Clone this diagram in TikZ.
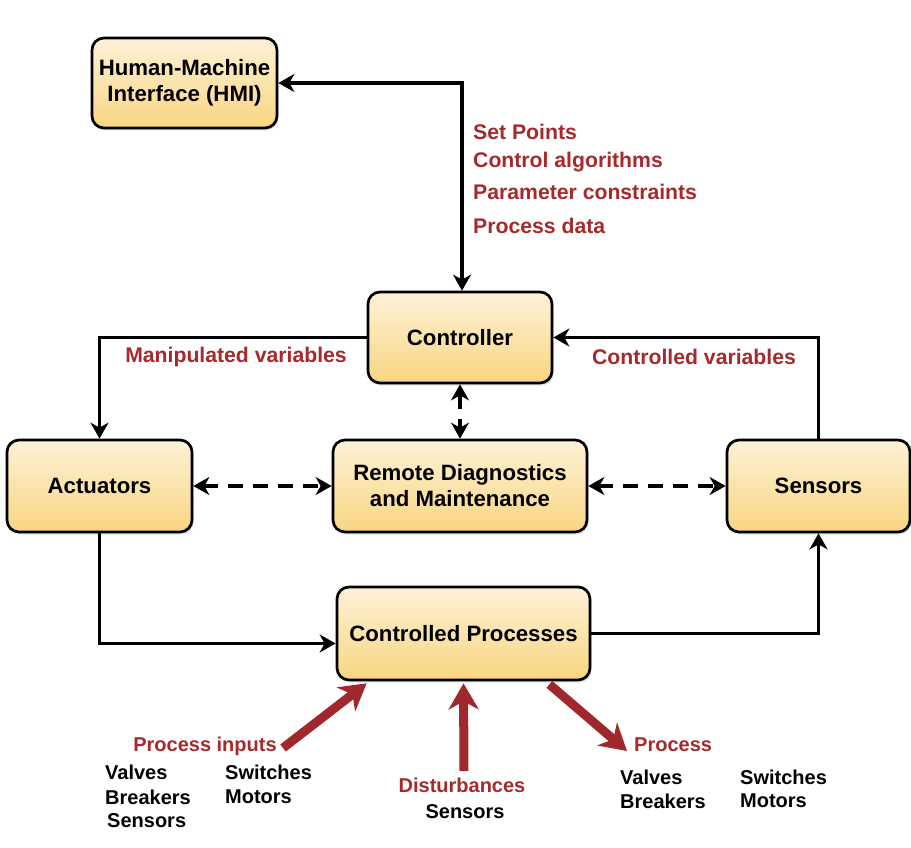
\documentclass[tikz,border=0pt]{standalone}
\usepackage{fontspec}
\setmainfont{Liberation Sans}
\usetikzlibrary{arrows.meta,shadows,calc}
\definecolor{boxtop}{RGB}{253,242,216}
\definecolor{boxbot}{RGB}{249,213,128}
\definecolor{lblred}{RGB}{166,42,44}
\definecolor{arrred}{RGB}{160,40,44}
\tikzset{
  blk/.style={draw=black, line width=2.7pt, rounded corners=12pt, top color=boxtop, bottom color=boxbot,
    align=center, font=\fontsize{22.2}{26}\selectfont\bfseries, inner sep=0pt,
    drop shadow={opacity=0.22, shadow xshift=1.5pt, shadow yshift=-2.5pt}},
  tip/.style={Stealth[length=16pt,width=18pt,inset=5pt]},
  conn/.style={line width=3.5pt, black, arrows={-Stealth[length=16pt,width=18pt,inset=5pt]}},
  dconn/.style={line width=3.5pt, black, dash pattern=on 15pt off 10pt,
    arrows={Stealth[length=16pt,width=18pt,inset=5pt]-Stealth[length=16pt,width=18pt,inset=5pt]}},
  rarr/.style={line width=9pt, arrred, arrows={-Stealth[length=26pt,width=30pt,inset=8pt]}},
  rlbl/.style={text=lblred, font=\fontsize{21.2}{25}\selectfont\bfseries, inner sep=0pt},
  rlblb/.style={text=lblred, font=\fontsize{20}{24}\selectfont\bfseries, inner sep=0pt},
  klbl/.style={text=black, font=\fontsize{20}{24}\selectfont\bfseries, inner sep=0pt, anchor=west},
}
\begin{document}
\begin{tikzpicture}[x=1pt,y=-1pt]
\useasboundingbox (0,0) rectangle (911,847);
\fill[white] (0,0) rectangle (911,847);

\node[blk, minimum width=185pt, minimum height=90pt] (hmi) at (184.5,83) {Human-Machine\\Interface (HMI)};
\node[blk, minimum width=184pt, minimum height=91pt] (ctrl) at (460,337.5) {Controller};
\node[blk, minimum width=185pt, minimum height=92pt] (act) at (99.5,486) {Actuators};
\node[blk, minimum width=254pt, minimum height=92pt] (rem) at (460,486) {Remote Diagnostics\\and Maintenance};
\node[blk, minimum width=183pt, minimum height=92pt] (sen) at (818.5,486) {Sensors};
\node[blk, minimum width=253pt, minimum height=93pt] (proc) at (463.5,633.5) {Controlled Processes};

% HMI <-> Controller
\draw[line width=3.5pt, black, arrows={Stealth[length=16pt,width=18pt,inset=5pt]-Stealth[length=16pt,width=18pt,inset=5pt]}]
  (hmi.east) -| ([xshift=2pt]ctrl.north);
\node[rlbl, anchor=west] (l1) at (473,132) {Set Points};
\node[rlbl, anchor=west] (l2) at (473,162) {Control algorithms};
\node[rlbl, anchor=west] (l3) at (473,192) {Parameter constraints};
\node[rlbl, anchor=west] (l4) at (473,226) {Process data};

% loops
\draw[conn] (ctrl.west) -| (act.north);
\draw[conn] (sen.north) |- (ctrl.east);
\node[rlbl] (mv) at (236,357) {Manipulated variables};
\node[rlbl] (cv) at (694,357) {Controlled variables};
\draw[conn] (act.south) |- ([yshift=-10pt]proc.west);
\draw[conn] (proc.east) -| (sen.south);

% dashed
\draw[dconn] (ctrl.south) -- (rem.north);
\draw[dconn] (act.east) -- (rem.west);
\draw[dconn] (rem.east) -- (sen.west);

% red arrows
\coordinate (pin) at (283,748);
\coordinate (dist) at (464,771);
\coordinate (pout) at (627,751);
\draw[rarr] (pin) -- ($(proc.south west)+(31,2)$);
\draw[rarr] (dist) -- ($(proc.south)+(0,2)$);
\draw[rarr] ($(proc.south east)+(-42,3)$) -- (pout);

\node[rlblb] (pi) at (205,746) {Process inputs};
\node[rlblb] (di) at (462,785) {Disturbances};
\node[rlblb, anchor=west] (po) at (634,745) {Process};

\node[klbl] (a1) at (105,772) {Valves};
\node[klbl] (a2) at (105,797) {Breakers};
\node[klbl] (a3) at (107,821) {Sensors};
\node[klbl] (a4) at (225,772) {Switches};
\node[klbl] (a5) at (225,797) {Motors};
\node[text=black, font=\fontsize{20}{24}\selectfont\bfseries, inner sep=0pt] (b1) at (465,812) {Sensors};
\node[klbl] (c1) at (620,777) {Valves};
\node[klbl] (c2) at (620,801) {Breakers};
\node[klbl] (c3) at (740,777) {Switches};
\node[klbl] (c4) at (740,801) {Motors};
\end{tikzpicture}
\end{document}
